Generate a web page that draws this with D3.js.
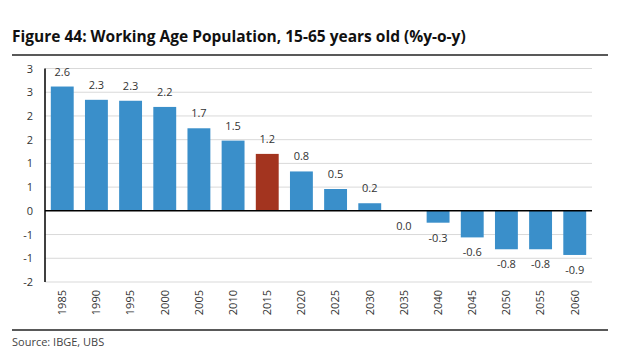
<!DOCTYPE html>
<html><head><meta charset="utf-8">
<script src="https://cdn.jsdelivr.net/npm/d3@7"></script>
<style>
body{margin:0;background:#fff;}
svg text{font-family:"Open Sans","Noto Sans",sans-serif;}
</style></head>
<body>
<svg id="chart" width="620" height="355"></svg>
<script>
const categories = ["1985","1990","1995","2000","2005","2010","2015","2020","2025","2030","2035","2040","2045","2050","2055","2060"];
const values = [2.62, 2.34, 2.32, 2.19, 1.74, 1.48, 1.20, 0.83, 0.46, 0.16, 0.0, -0.25, -0.56, -0.81, -0.81, -0.93];
const valueLabels = ["2.6","2.3","2.3","2.2","1.7","1.5","1.2","0.8","0.5","0.2","0.0","-0.3","-0.6","-0.8","-0.8","-0.9"];
const highlight = ["2015"];
const yTicks = [3.0, 2.5, 2.0, 1.5, 1.0, 0.5, 0, -0.5, -1.0, -1.5];
const yTickLabels = ["3","3","2","2","1","1","0","-1","-1","-2"];

const svg = d3.select("#chart");
const pL = 45, pR = 592, pT = 68.5, pB = 282;

svg.append("text").attr("x", 12).attr("y", 42)
  .attr("font-size", 15.5).attr("font-weight", "bold").attr("fill", "#111")
  .text("Figure 44: Working Age Population, 15-65 years old (%y-o-y)");
svg.append("line").attr("x1", 12).attr("x2", 608).attr("y1", 55).attr("y2", 55)
  .attr("stroke", "#222").attr("stroke-width", 1.5);

const x = d3.scaleBand().domain(categories).range([pL, pR]).paddingInner(0.33).paddingOuter(0.17);
const y = d3.scaleLinear().domain([-1.5, 3.0]).range([pB, pT]);

// gridlines
svg.append("g").selectAll("line").data(yTicks.filter(t => t !== 0)).join("line")
  .attr("x1", pL).attr("x2", pR)
  .attr("y1", d => y(d)).attr("y2", d => y(d))
  .attr("stroke", "#d9d9d9").attr("stroke-width", 1);

// y axis
const yAxis = d3.axisLeft(y).tickValues(yTicks).tickSize(0).tickPadding(12)
  .tickFormat((d, i) => yTickLabels[i]);
const gy = svg.append("g").attr("transform", `translate(${pL},0)`).call(yAxis);
gy.select(".domain").remove();
gy.selectAll("text").attr("font-size", 11).attr("fill", "#333")
  .attr("font-family", "'Open Sans','Noto Sans',sans-serif");

// bars
svg.append("g").selectAll("rect").data(categories).join("rect")
  .attr("x", d => x(d))
  .attr("width", x.bandwidth())
  .attr("y", (d, i) => y(Math.max(0, values[i])))
  .attr("height", (d, i) => Math.abs(y(values[i]) - y(0)))
  .attr("fill", d => highlight.includes(d) ? "#A3341F" : "#3A8FCA");

// zero line & y axis line
svg.append("line").attr("x1", pL).attr("x2", pR).attr("y1", y(0)).attr("y2", y(0))
  .attr("stroke", "#000").attr("stroke-width", 1.5);
svg.append("line").attr("x1", pL).attr("x2", pL).attr("y1", pT).attr("y2", pB)
  .attr("stroke", "#000").attr("stroke-width", 1.5);

// value labels
svg.append("g").selectAll("text").data(categories).join("text")
  .attr("x", d => x(d) + x.bandwidth() / 2)
  .attr("y", (d, i) => values[i] > 0 ? y(values[i]) - 11 : y(Math.min(0, values[i])) + 19)
  .attr("text-anchor", "middle").attr("font-size", 11).attr("fill", "#333")
  .text((d, i) => valueLabels[i]);

// x axis labels (rotated)
const xAxis = d3.axisBottom(x).tickSize(0).tickPadding(0);
const gx = svg.append("g").attr("transform", `translate(0,${pB})`).call(xAxis);
gx.select(".domain").remove();
gx.selectAll("text")
  .attr("font-size", 11).attr("fill", "#333")
  .attr("font-family", "'Open Sans','Noto Sans',sans-serif")
  .attr("transform", "rotate(-90)")
  .attr("text-anchor", "end")
  .attr("x", -8).attr("y", 0).attr("dy", "0.35em");

svg.append("line").attr("x1", 12).attr("x2", 608).attr("y1", 330).attr("y2", 330)
  .attr("stroke", "#222").attr("stroke-width", 1.5);
svg.append("text").attr("x", 12).attr("y", 346)
  .attr("font-size", 11).attr("fill", "#444").text("Source: IBGE, UBS");
</script>
</body></html>
